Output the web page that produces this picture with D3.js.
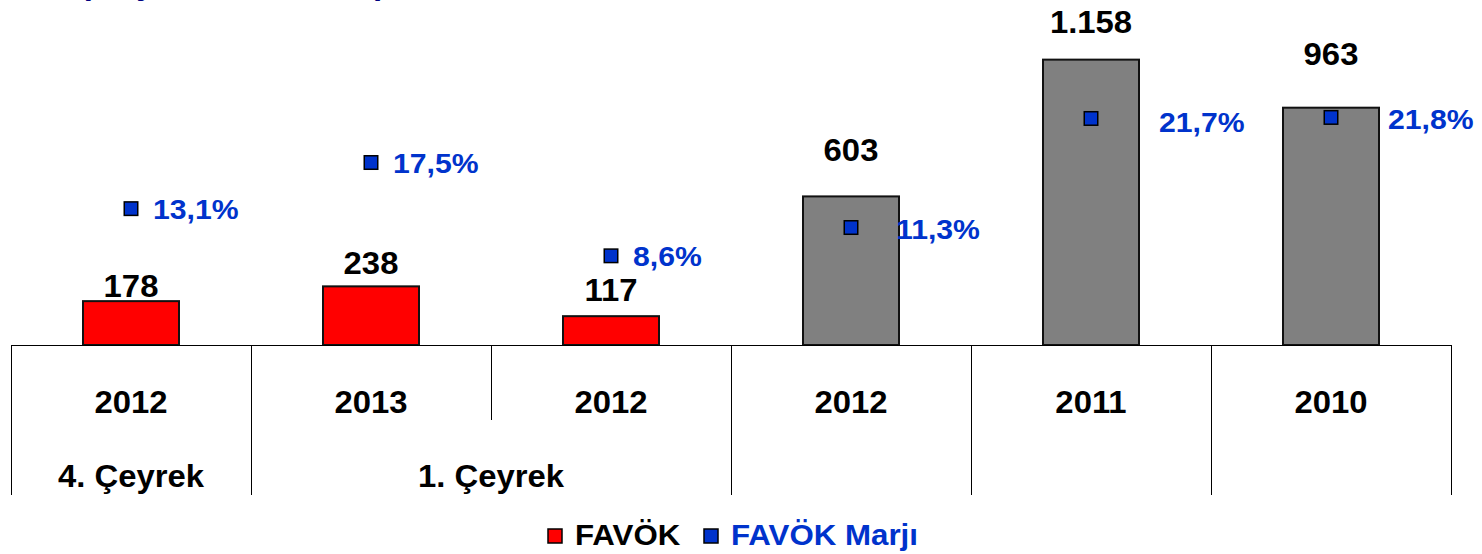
<!DOCTYPE html>
<html>
<head>
<meta charset="utf-8">
<script src="https://cdn.jsdelivr.net/npm/d3@7"></script>
<style>
  html, body { margin: 0; padding: 0; background: #fff; }
  svg { display: block; font-family: "Liberation Sans", Arial, sans-serif; font-weight: bold; }
</style>
</head>
<body>
<svg id="chart" width="1482" height="554"></svg>
<script>
// ---- data ----
const years = ["2012", "2013", "2012", "2012", "2011", "2010"];
const periods = [
  { label: "4. Çeyrek", first: 0, last: 0 },
  { label: "1. Çeyrek", first: 1, last: 2 },
  { label: "", first: 3, last: 3 },
  { label: "", first: 4, last: 4 },
  { label: "", first: 5, last: 5 }
];
const favok = [178, 238, 117, 603, 1158, 963];
const favokLabels = ["178", "238", "117", "603", "1.158", "963"];
const marj = [13.1, 17.5, 8.6, 11.3, 21.7, 21.8];
const marjLabels = ["13,1%", "17,5%", "8,6%", "11,3%", "21,7%", "21,8%"];
const isQuarter = [true, true, true, false, false, false];
const legendItems = ["FAVÖK", "FAVÖK Marjı"];

// ---- label placement tweaks ----
const valueLabelGap = [4, 12, 15, 35, 27, 43];
const marjLabelDx = [22, 22, 22, 45, 68, 57];
const marjLabelDy = [0, 0, 0, 1, 3, 1];

// ---- layout ----
const svg = d3.select("#chart");
const plotLeft = 11, plotRight = 1451, baseY = 345;
const yearRowBottom = 420, axisBottom = 495;
const stretch = 1.06;

const x = d3.scaleBand().domain(d3.range(years.length)).range([plotLeft, plotRight]).paddingInner(0).paddingOuter(0);
const yBar = d3.scaleLinear().domain([0, 1400]).range([baseY, 0]);
const yPct = d3.scaleLinear().domain([0, 33]).range([baseY + 1, 0]);
const barW = x.bandwidth() * 0.4;
const cx = i => x(i) + x.bandwidth() / 2;

const blue = "#0033CC";

// text helper with the slight horizontal widening of the chart's lettering
function label(parent, px, py, txt, opts) {
  const g = parent.append("g").attr("transform", `translate(${px},${py}) scale(${stretch},1)`);
  g.append("text")
    .attr("x", 0).attr("y", 0)
    .attr("text-anchor", opts.anchor || "middle")
    .attr("dy", opts.dy || null)
    .attr("font-size", opts.size)
    .attr("fill", opts.fill || "#000")
    .text(txt);
  return g;
}

// unit caption, clipped by the top edge
svg.append("text")
  .attr("x", 80).attr("y", -6)
  .attr("font-size", 31)
  .attr("fill", "#000080")
  .attr("textLength", 306)
  .attr("lengthAdjust", "spacingAndGlyphs")
  .text("(Milyon ABD Doları)");

// ---- bars ----
svg.append("g").selectAll("rect").data(favok).join("rect")
  .attr("x", (d, i) => cx(i) - barW / 2)
  .attr("y", d => yBar(d))
  .attr("width", barW)
  .attr("height", d => baseY - yBar(d))
  .attr("fill", (d, i) => isQuarter[i] ? "#FF0000" : "#808080")
  .attr("stroke", "#111")
  .attr("stroke-width", 2);

// ---- category axis ----
const axis = svg.append("g").attr("stroke", "#000").attr("stroke-width", 1).attr("shape-rendering", "crispEdges");
axis.append("line").attr("x1", plotLeft).attr("x2", plotRight).attr("y1", baseY + 0.5).attr("y2", baseY + 0.5);
// boundaries between periods run the full depth, inner category boundaries stop below the year row
const boundaries = d3.range(years.length + 1).map(k => {
  const full = k === 0 || k === years.length || periods.some(p => p.first === k);
  return { x: k === years.length ? plotRight : x(k), full };
});
axis.selectAll("line.div").data(boundaries).join("line")
  .attr("class", "div")
  .attr("x1", d => Math.round(d.x) + 0.5).attr("x2", d => Math.round(d.x) + 0.5)
  .attr("y1", baseY).attr("y2", d => d.full ? axisBottom : yearRowBottom);

const labels = svg.append("g");
years.forEach((yr, i) => label(labels, cx(i), 413, yr, { size: 31 }));
periods.forEach(p => {
  if (!p.label) return;
  const mid = (x(p.first) + x(p.last) + x.bandwidth()) / 2;
  label(labels, mid, 487, p.label, { size: 31 });
});

// ---- value labels ----
favok.forEach((v, i) => label(labels, cx(i), yBar(v) - valueLabelGap[i], favokLabels[i], { size: 31 }));

// ---- margin markers ----
const mk = 13.5;
svg.append("g").selectAll("rect").data(marj).join("rect")
  .attr("x", (d, i) => cx(i) - mk / 2)
  .attr("y", d => yPct(d) - mk / 2)
  .attr("width", mk).attr("height", mk)
  .attr("fill", blue)
  .attr("stroke", "#000")
  .attr("stroke-width", 1.5);

marj.forEach((v, i) => label(labels, cx(i) + marjLabelDx[i], yPct(v) + marjLabelDy[i], marjLabels[i],
  { size: 28.5, anchor: "start", dy: "0.36em", fill: blue }));

// ---- legend ----
const legend = svg.append("g");
const legendX = [547, 703];
legendItems.forEach((name, i) => {
  legend.append("rect")
    .attr("x", legendX[i] + 1).attr("y", 529).attr("width", 14).attr("height", 14)
    .attr("fill", i === 0 ? "#FF0000" : blue)
    .attr("stroke", "#000").attr("stroke-width", 1.5);
  label(legend, legendX[i] + 28, 545, name, { size: 29.5, anchor: "start", fill: i === 0 ? "#000" : blue });
});
</script>
</body>
</html>
